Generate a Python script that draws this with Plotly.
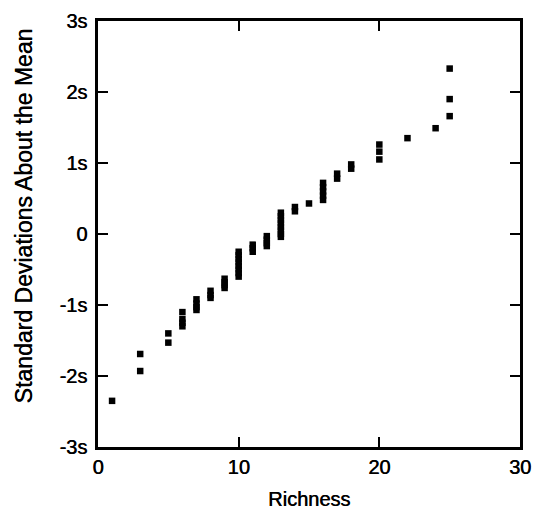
import plotly.graph_objects as go

# Richness values and their standardized scores (in standard deviations)
richness = [1,
            3, 3,
            5, 5,
            6, 6, 6, 6,
            7, 7, 7, 7,
            8, 8, 8,
            9, 9, 9, 9,
            10, 10, 10, 10, 10, 10, 10, 10,
            11, 11, 11,
            12, 12, 12, 12,
            13, 13, 13, 13, 13, 13, 13, 13,
            14, 14,
            15,
            16, 16, 16, 16, 16,
            17, 17,
            18, 18,
            20, 20, 20,
            22,
            24,
            25, 25, 25]
std_dev = [-2.35,
           -1.69, -1.93,
           -1.40, -1.53,
           -1.10, -1.20, -1.25, -1.30,
           -0.92, -0.98, -1.03, -1.07,
           -0.80, -0.86, -0.90,
           -0.63, -0.68, -0.72, -0.76,
           -0.25, -0.30, -0.35, -0.40, -0.45, -0.50, -0.55, -0.60,
           -0.15, -0.20, -0.25,
           -0.03, -0.08, -0.13, -0.17,
           0.30, 0.25, 0.20, 0.15, 0.10, 0.05, 0.00, -0.04,
           0.38, 0.32,
           0.43,
           0.72, 0.66, 0.60, 0.54, 0.48,
           0.85, 0.78,
           0.98, 0.92,
           1.26, 1.16, 1.05,
           1.35,
           1.49,
           2.33, 1.90, 1.66]

x_ticks = [0, 10, 20, 30]
y_ticks = [-3, -2, -1, 0, 1, 2, 3]
y_tick_labels = ["-3s", "-2s", "-1s", "0", "1s", "2s", "3s"]

FONT = "Liberation Sans, Arial, Helvetica, sans-serif"
# slightly heavier strokes for the printed-style lettering
HEAVY = "0.5px 0px 0px black"

fig = go.Figure(go.Scatter(
    x=richness, y=std_dev, mode="markers",
    marker=dict(symbol="square", size=6.5, color="black", line=dict(width=0)),
    showlegend=False, hoverinfo="x+y",
))

axis_common = dict(
    showline=True, linewidth=2.5, linecolor="black", mirror="ticks",
    ticks="inside", ticklen=10, tickwidth=2, tickcolor="black",
    showgrid=False, zeroline=False,
    tickfont=dict(family=FONT, size=20, color="black", shadow=HEAVY),
)

fig.update_xaxes(range=[0, 30], tickvals=x_ticks, **axis_common)
fig.update_yaxes(range=[-3, 3], tickvals=y_ticks, ticktext=y_tick_labels,
                 ticklabelstandoff=4, **axis_common)

fig.add_annotation(text="Richness", xref="paper", yref="paper",
                   x=0.5, y=-0.123, yanchor="middle", xanchor="center",
                   showarrow=False,
                   font=dict(family=FONT, size=20, color="black", shadow=HEAVY))
fig.add_annotation(text="Standard Deviations About the Mean",
                   xref="paper", yref="paper", textangle=-90,
                   x=-0.176, y=0.543, xanchor="center", yanchor="middle",
                   showarrow=False,
                   font=dict(family=FONT, size=23, color="black", shadow=HEAVY))

fig.update_layout(
    width=541, height=515,
    margin=dict(l=98, r=10, t=17, b=68),
    plot_bgcolor="white", paper_bgcolor="white",
)

fig.write_html("out.html")
